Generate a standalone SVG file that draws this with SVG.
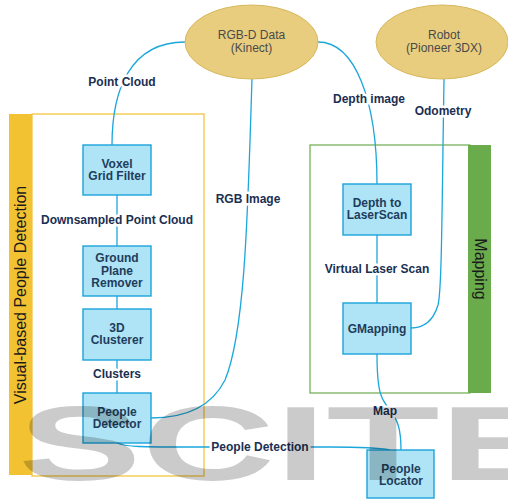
<svg xmlns="http://www.w3.org/2000/svg" width="508" height="500" viewBox="0 0 508 500">
<style>
.box{fill:#AEE4F5;stroke:#1BA3DA;stroke-width:1.4}
.bt{font-family:"Liberation Sans",Arial,sans-serif;font-weight:bold;font-size:12px;fill:#1E3D5C;text-anchor:middle}
.lbl{font-family:"Liberation Sans",Arial,sans-serif;font-weight:bold;font-size:12px;fill:#1B2F52;text-anchor:middle;stroke:#fff;stroke-width:5;paint-order:stroke;stroke-linejoin:round}
.ell{fill:#E8CD7E;stroke:#D8B85C;stroke-width:1}
.et{font-family:"Liberation Sans",Arial,sans-serif;font-size:12px;fill:#4A4A4A;text-anchor:middle}
.con{fill:none;stroke:#1BA7DC;stroke-width:1.3}
.side{font-family:"Liberation Sans",Arial,sans-serif;font-size:16px;fill:#1a1a1a;text-anchor:middle}
</style>
<rect width="508" height="500" fill="#fff"/>
<g id="container-visual">
<rect x="32" y="114" width="172" height="362" fill="none" stroke="#F0C030" stroke-width="1.2"/>
<rect x="9" y="114" width="23" height="361" fill="#F2C232"/>
<text class="side" transform="translate(26,295) rotate(-90)">Visual-based People Detection</text>
</g>
<g id="container-mapping">
<rect x="310" y="145" width="160" height="248" fill="none" stroke="#6AAB4C" stroke-width="1.2"/>
<rect x="468" y="145" width="23" height="248" fill="#6AAB4C"/>
<text class="side" transform="translate(475,269) rotate(90)">Mapping</text>
</g>
<g id="connectors">
<path class="con" d="M185,42 C130,42 112,90 112,145"/>
<path class="con" d="M318,42 C355,42 377,100 377,184"/>
<path class="con" d="M252,79 C248,200 246,330 225,380 C210,410 180,418 151,418"/>
<path class="con" d="M444,79 C442,200 442,290 438,305 C432,325 420,328 411,328"/>
<path class="con" d="M117,195 V246"/>
<path class="con" d="M117,296 V309"/>
<path class="con" d="M117,360 V393"/>
<path class="con" d="M377,235 V303"/>
<path class="con" d="M377,354 C377,395 382,400 390,410 C398,420 401,430 401,450"/>
<path class="con" d="M117,443 C125,447 140,447 200,447 L330,447 C370,447 380,448 390,450"/>
</g>
<g id="labels">
<text class="lbl" x="122" y="86">Point Cloud</text>
<text class="lbl" x="369" y="103">Depth image</text>
<text class="lbl" x="443" y="115">Odometry</text>
<text class="lbl" x="248" y="203">RGB Image</text>
<text class="lbl" x="117" y="224">Downsampled Point Cloud</text>
<text class="lbl" x="377" y="273">Virtual Laser Scan</text>
<text class="lbl" x="117" y="378">Clusters</text>
<text class="lbl" x="385" y="415">Map</text>
<text class="lbl" x="260" y="451">People Detection</text>
</g>
<g id="rgbd">
<ellipse class="ell" cx="251.5" cy="42" rx="66.5" ry="37"/>
<text class="et" x="251.5" y="39">RGB-D Data</text>
<text class="et" x="251.5" y="52">(Kinect)</text>
</g>
<g id="robot">
<ellipse class="ell" cx="442" cy="42" rx="66" ry="37"/>
<text class="et" x="444" y="39">Robot</text>
<text class="et" x="444" y="52">(Pioneer 3DX)</text>
</g>
<g id="voxel">
<rect class="box" x="83" y="145" width="68" height="50"/>
<text class="bt" x="117" y="168">Voxel</text>
<text class="bt" x="117" y="180">Grid Filter</text>
</g>
<g id="ground">
<rect class="box" x="83" y="246" width="68" height="50"/>
<text class="bt" x="117" y="262">Ground</text>
<text class="bt" x="117" y="275">Plane</text>
<text class="bt" x="117" y="287">Remover</text>
</g>
<g id="clusterer">
<rect class="box" x="83" y="309" width="68" height="51"/>
<text class="bt" x="117" y="332">3D</text>
<text class="bt" x="117" y="344">Clusterer</text>
</g>
<g id="detector">
<rect class="box" x="83" y="393" width="68" height="50"/>
<text class="bt" x="117" y="416">People</text>
<text class="bt" x="117" y="428">Detector</text>
</g>
<g id="depth2laser">
<rect class="box" x="343" y="184" width="68" height="51"/>
<text class="bt" x="377" y="207">Depth to</text>
<text class="bt" x="377" y="219">LaserScan</text>
</g>
<g id="gmapping">
<rect class="box" x="343" y="303" width="68" height="51"/>
<text class="bt" x="377" y="333">GMapping</text>
</g>
<g id="locator">
<rect class="box" x="367" y="450" width="67" height="48"/>
<text class="bt" x="401" y="473">People</text>
<text class="bt" x="401" y="485">Locator</text>
</g>
<g id="watermark" opacity="0.2">
<text x="18" y="480" font-family="Liberation Sans, Arial, sans-serif" font-weight="bold" font-size="105" textLength="545" lengthAdjust="spacingAndGlyphs" fill="#000">SCITE</text>
</g>
</svg>
